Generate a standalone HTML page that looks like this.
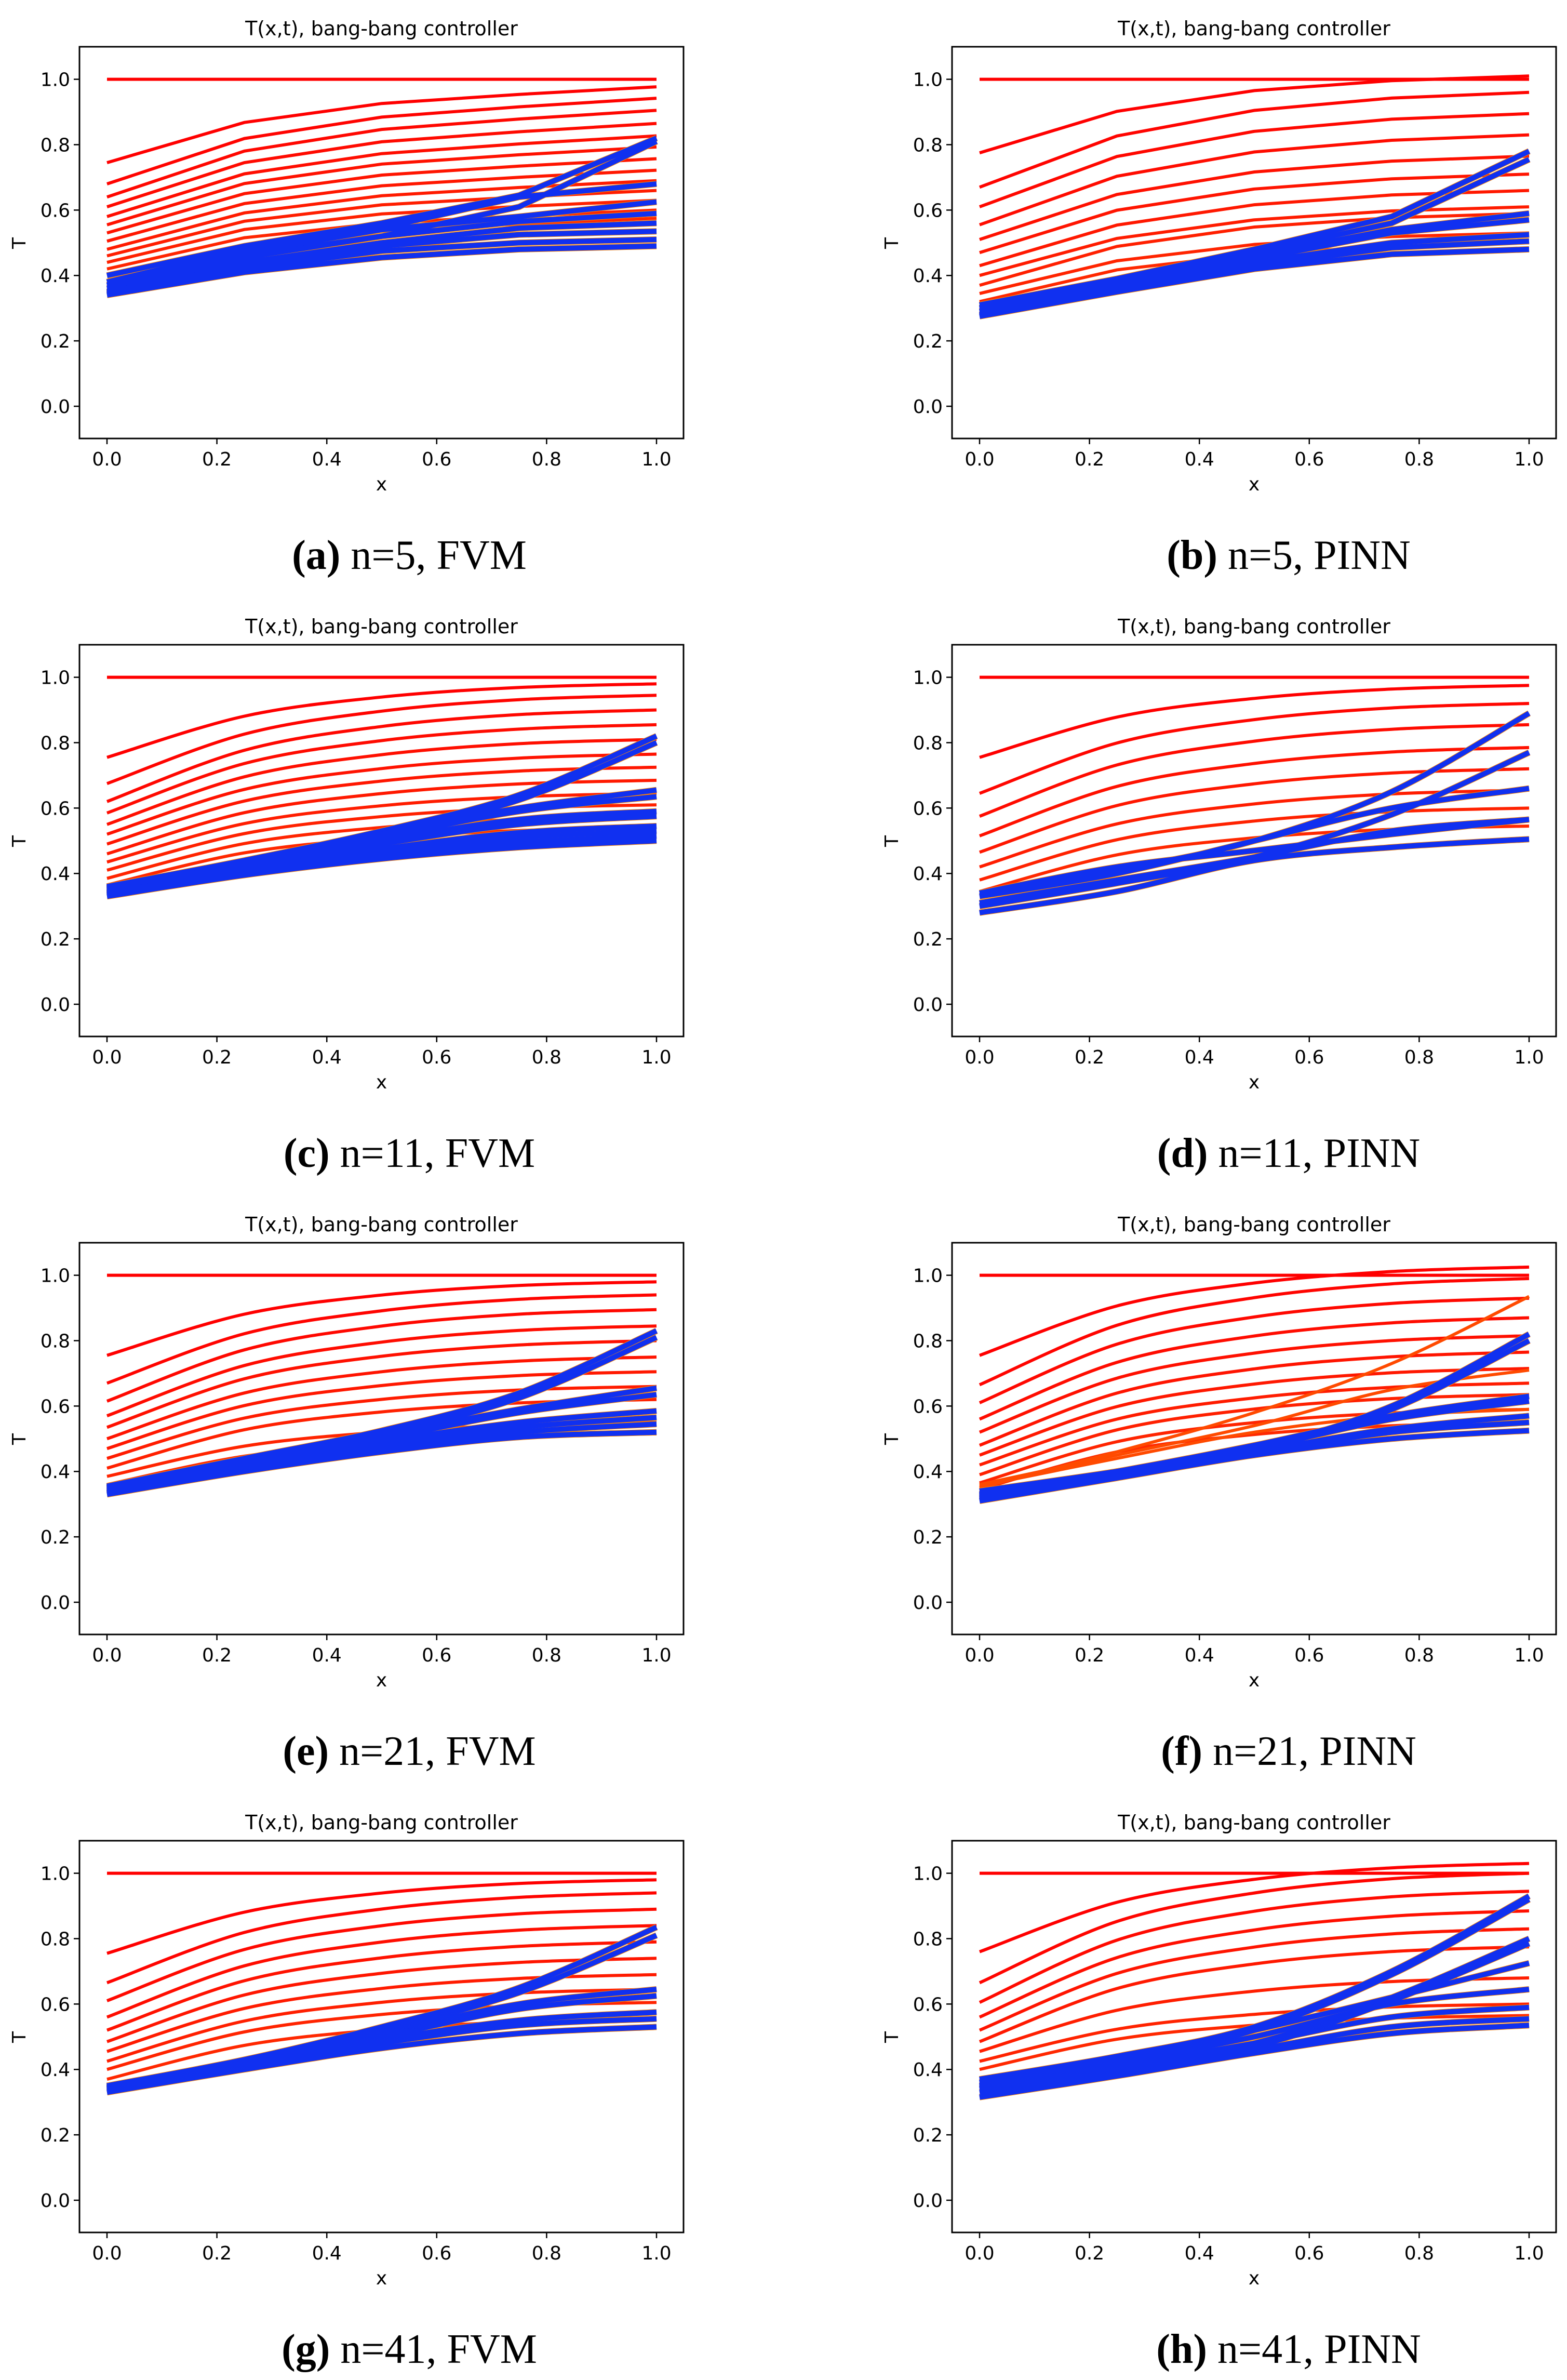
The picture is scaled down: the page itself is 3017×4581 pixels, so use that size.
<!DOCTYPE html>
<html><head><meta charset="utf-8">
<style>
html,body{margin:0;padding:0;background:#fff;}
svg{display:block;}
</style></head>
<body>
<svg id="fig" xmlns="http://www.w3.org/2000/svg" width="3017" height="4581" viewBox="0 0 3017 4581"></svg>
<script>
// ---- chart data ----
const xKnots = [0, 0.25, 0.5, 0.75, 1.0];
const yTicks = [0.0, 0.2, 0.4, 0.6, 0.8, 1.0];
const xTicks = [0.0, 0.2, 0.4, 0.6, 0.8, 1.0];
const captionLetters = ["(a)","(b)","(c)","(d)","(e)","(f)","(g)","(h)"];
const captionTexts = [" n=5, FVM"," n=5, PINN"," n=11, FVM"," n=11, PINN"," n=21, FVM"," n=21, PINN"," n=41, FVM"," n=41, PINN"];
const smoothFlags = [false,false,true,true,true,true,true,true];

const redStartA = [0.745,0.68,0.64,0.61,0.58,0.555,0.53,0.505,0.48,0.46,0.44,0.42,0.40];
const redEndA   = [0.977,0.942,0.905,0.865,0.827,0.793,0.757,0.722,0.69,0.66,0.63,0.60,0.575];
const profileA  = [0,0.53,0.78,0.9,1];
const blueA = [[0.40,0.49,0.56,0.645,0.82],[0.38,0.48,0.545,0.64,0.68],[0.37,0.46,0.52,0.61,0.81],[0.38,0.47,0.54,0.58,0.625],[0.37,0.455,0.52,0.565,0.59],[0.36,0.44,0.50,0.545,0.56],[0.35,0.43,0.49,0.525,0.535],[0.345,0.42,0.475,0.5,0.51],[0.34,0.41,0.455,0.48,0.49]];
const extraA = [];

const redStartB = [0.775,0.67,0.61,0.555,0.51,0.47,0.43,0.40,0.37,0.345,0.32];
const redEndB   = [1.01,0.96,0.895,0.83,0.765,0.71,0.66,0.61,0.59,0.53,0.50];
const profileB  = [0,0.54,0.81,0.94,1];
const blueB = [[0.31,0.39,0.48,0.58,0.78],[0.30,0.38,0.47,0.56,0.755],[0.30,0.375,0.46,0.54,0.59],[0.29,0.37,0.45,0.53,0.57],[0.29,0.36,0.44,0.50,0.525],[0.28,0.355,0.43,0.485,0.505],[0.275,0.35,0.42,0.465,0.48]];
const extraB = [];

const redStartC = [0.755,0.675,0.62,0.585,0.55,0.52,0.49,0.46,0.435,0.41,0.385,0.365];
const redEndC   = [0.98,0.945,0.90,0.855,0.81,0.765,0.725,0.685,0.645,0.61,0.575,0.54];
const profileC  = [0,0.56,0.82,0.95,1];
const blueC = [[0.36,0.44,0.53,0.64,0.82],[0.355,0.435,0.52,0.625,0.80],[0.355,0.435,0.52,0.60,0.655],[0.35,0.43,0.51,0.59,0.635],[0.345,0.42,0.50,0.565,0.59],[0.34,0.415,0.49,0.55,0.575],[0.34,0.41,0.475,0.525,0.545],[0.335,0.405,0.465,0.51,0.53],[0.335,0.40,0.455,0.495,0.515],[0.33,0.395,0.445,0.48,0.50]];
const extraC = [];

const redStartD = [0.755,0.645,0.575,0.515,0.465,0.42,0.38,0.345];
const redEndD   = [0.975,0.92,0.855,0.785,0.72,0.655,0.60,0.545];
const profileD  = [0,0.56,0.82,0.95,1];
const blueD = [[0.34,0.41,0.50,0.65,0.89],[0.30,0.37,0.45,0.58,0.77],[0.33,0.40,0.50,0.60,0.66],[0.31,0.38,0.45,0.53,0.565],[0.28,0.345,0.44,0.48,0.505],[0.34,0.42,0.47,0.52,0.565]];
const extraD = [];

const redStartE = [0.755,0.67,0.615,0.57,0.535,0.50,0.47,0.44,0.41,0.385,0.36];
const redEndE   = [0.98,0.94,0.895,0.845,0.80,0.75,0.705,0.66,0.62,0.55,0.515];
const profileE  = [0,0.56,0.82,0.95,1];
const blueE = [[0.355,0.44,0.525,0.64,0.83],[0.35,0.43,0.515,0.625,0.81],[0.35,0.43,0.51,0.59,0.655],[0.345,0.425,0.50,0.58,0.635],[0.34,0.415,0.49,0.55,0.585],[0.335,0.41,0.48,0.535,0.565],[0.335,0.405,0.47,0.52,0.545],[0.33,0.40,0.46,0.505,0.52]];
const extraE = [];

const redStartF = [0.755,0.665,0.61,0.56,0.52,0.48,0.45,0.42,0.39,0.365,0.345];
const redEndF   = [1.025,0.99,0.93,0.87,0.815,0.765,0.715,0.67,0.635,0.59,0.55];
const profileF  = [0,0.56,0.82,0.95,1];
const blueF = [[0.34,0.40,0.47,0.60,0.82],[0.33,0.395,0.465,0.59,0.80],[0.33,0.40,0.48,0.57,0.63],[0.325,0.395,0.47,0.56,0.615],[0.32,0.39,0.46,0.53,0.57],[0.315,0.385,0.455,0.52,0.55],[0.31,0.38,0.45,0.50,0.525]];
const extraF = [[0.35,0.46,0.58,0.73,0.935],[0.36,0.45,0.54,0.65,0.71],[0.355,0.44,0.52,0.57,0.59]];

const redStartG = [0.755,0.665,0.61,0.56,0.52,0.485,0.455,0.425,0.40,0.37];
const redEndG   = [0.98,0.94,0.89,0.84,0.79,0.74,0.69,0.645,0.605,0.555];
const profileG  = [0,0.56,0.82,0.95,1];
const blueG = [[0.35,0.43,0.53,0.65,0.835],[0.345,0.425,0.52,0.635,0.81],[0.345,0.425,0.51,0.60,0.645],[0.34,0.42,0.50,0.585,0.625],[0.34,0.41,0.49,0.55,0.575],[0.335,0.405,0.48,0.535,0.555],[0.33,0.40,0.465,0.51,0.53]];
const extraG = [];

const redStartH = [0.76,0.665,0.605,0.56,0.52,0.485,0.455,0.425,0.40];
const redEndH   = [1.03,1.0,0.945,0.885,0.83,0.775,0.68,0.60,0.565];
const profileH  = [0,0.56,0.82,0.95,1];
const blueH = [[0.37,0.44,0.53,0.70,0.93],[0.36,0.43,0.52,0.69,0.92],[0.35,0.41,0.48,0.62,0.80],[0.345,0.405,0.47,0.61,0.785],[0.36,0.43,0.52,0.62,0.725],[0.35,0.42,0.50,0.60,0.645],[0.34,0.41,0.48,0.56,0.59],[0.33,0.39,0.46,0.53,0.555],[0.315,0.38,0.45,0.51,0.535]];
const extraH = [];

const redStarts = [redStartA,redStartB,redStartC,redStartD,redStartE,redStartF,redStartG,redStartH];
const redEnds   = [redEndA,redEndB,redEndC,redEndD,redEndE,redEndF,redEndG,redEndH];
const profiles  = [profileA,profileB,profileC,profileD,profileE,profileF,profileG,profileH];
const blues     = [blueA,blueB,blueC,blueD,blueE,blueF,blueG,blueH];
const extras    = [extraA,extraB,extraC,extraD,extraE,extraF,extraG,extraH];

// ---- rendering ----
const NS = "http://www.w3.org/2000/svg";
const fig = document.getElementById("fig");
function mk(tag, attrs, parent){ const e=document.createElementNS(NS,tag); for(const k in attrs) e.setAttribute(k,attrs[k]); parent.appendChild(e); return e; }

const AX_L=153, AX_R=1316, AX_T=90, AX_B=844;
const X0=206, X1=1264, Y0=782, Y1=152.6;
const ROW_H=1151, COL_W=1680;
function xs(v){ return X0 + (X1-X0)*v; }
function ys(v){ return Y0 - (Y0-Y1)*v; }

function pathFor(vals, smooth){
  const pts = xKnots.map((x,i)=>[xs(x), ys(vals[i])]);
  let d = "M"+pts[0][0].toFixed(1)+","+pts[0][1].toFixed(1);
  if(!smooth){ for(let i=1;i<pts.length;i++) d+=" L"+pts[i][0].toFixed(1)+","+pts[i][1].toFixed(1); return d; }
  for(let i=0;i<pts.length-1;i++){
    const p0=pts[Math.max(0,i-1)], p1=pts[i], p2=pts[i+1], p3=pts[Math.min(pts.length-1,i+2)];
    const c1=[p1[0]+(p2[0]-p0[0])/6, p1[1]+(p2[1]-p0[1])/6];
    const c2=[p2[0]-(p3[0]-p1[0])/6, p2[1]-(p3[1]-p1[1])/6];
    d+=" C"+c1[0].toFixed(1)+","+c1[1].toFixed(1)+" "+c2[0].toFixed(1)+","+c2[1].toFixed(1)+" "+p2[0].toFixed(1)+","+p2[1].toFixed(1);
  }
  return d;
}

const tickFont='font-family:"DejaVu Sans","Liberation Sans",sans-serif;';
for(let p=0;p<8;p++){
  const col=p%2, row=Math.floor(p/2);
  const g = mk("g",{transform:"translate("+(col*COL_W)+","+(row*ROW_H)+")"},fig);
  
  

  const title = mk("text",{x:(AX_L+AX_R)/2, y:68, "text-anchor":"middle", style:tickFont+"font-size:38px;fill:#000"},g);
  title.textContent="T(x,t), bang-bang controller";
  
  

  const plot = mk("g",{},g);
  
  
  const smooth = smoothFlags[p];
  const flat = mk("path",{d:pathFor(xKnots.map(()=>1.0),smooth), fill:"none", stroke:"#ff0000", "stroke-width":6},plot);
  
  
  const rs=redStarts[p], re=redEnds[p], pr=profiles[p];
  for(let i=0;i<rs.length;i++){
    const vals = pr.map(f=>rs[i]+(re[i]-rs[i])*f);
    const gcol = Math.round(40*i/Math.max(1,rs.length-1));
    const el = mk("path",{d:pathFor(vals,smooth), fill:"none", stroke:"rgb(255,"+gcol+",0)", "stroke-width":6},plot);
    
    
  }
  const ex = extras[p];
  for(let i=0;i<ex.length;i++){
    const el = mk("path",{d:pathFor(ex[i],smooth), fill:"none", stroke:"#ff4a00", "stroke-width":6},plot);
    
    
  }
  const bl = blues[p];
  for(let i=0;i<bl.length;i++){
    const u = mk("path",{d:pathFor(bl[i],smooth), fill:"none", stroke:"#ff8800", "stroke-width":12},plot);
    
    
  }
  for(let i=0;i<bl.length;i++){
    const el = mk("path",{d:pathFor(bl[i],smooth), fill:"none", stroke:"#1030f0", "stroke-width":10},plot);
    
    
  }

  const frame = mk("rect",{x:AX_L,y:AX_T,width:AX_R-AX_L,height:AX_B-AX_T,fill:"none",stroke:"#000","stroke-width":3},g);
  
  

  for(const t of yTicks){
    const y=ys(t);
    const tk = mk("line",{x1:AX_L-11,x2:AX_L,y1:y,y2:y,stroke:"#000","stroke-width":2.5},g);
    
    
    const lb = mk("text",{x:AX_L-18,y:y+13,"text-anchor":"end",style:tickFont+"font-size:36px;fill:#000"},g);
    lb.textContent=t.toFixed(1);
    
    
  }
  for(const t of xTicks){
    const x=xs(t);
    const tk = mk("line",{x1:x,x2:x,y1:AX_B,y2:AX_B+11,stroke:"#000","stroke-width":2.5},g);
    
    
    const lb = mk("text",{x:x,y:896,"text-anchor":"middle",style:tickFont+"font-size:36px;fill:#000"},g);
    lb.textContent=t.toFixed(1);
    
    
  }
  const xl = mk("text",{x:(AX_L+AX_R)/2,y:944,"text-anchor":"middle",style:tickFont+"font-size:36px;fill:#000"},g);
  xl.textContent="x";
  
  
  const yl = mk("text",{x:0,y:0,"text-anchor":"middle",transform:"translate(49,468) rotate(-90)",style:tickFont+"font-size:36px;fill:#000"},g);
  yl.textContent="T";
  
  

  const cap = mk("text",{x:(col===0?788:801),y:1095,"text-anchor":"middle",style:'font-family:"Liberation Serif",serif;font-size:80px;fill:#000'},g);
  
  
  const b = mk("tspan",{"font-weight":"bold"},cap); b.textContent=captionLetters[p];
  const r = mk("tspan",{},cap); r.textContent=captionTexts[p];
}
</script>
</body></html>
